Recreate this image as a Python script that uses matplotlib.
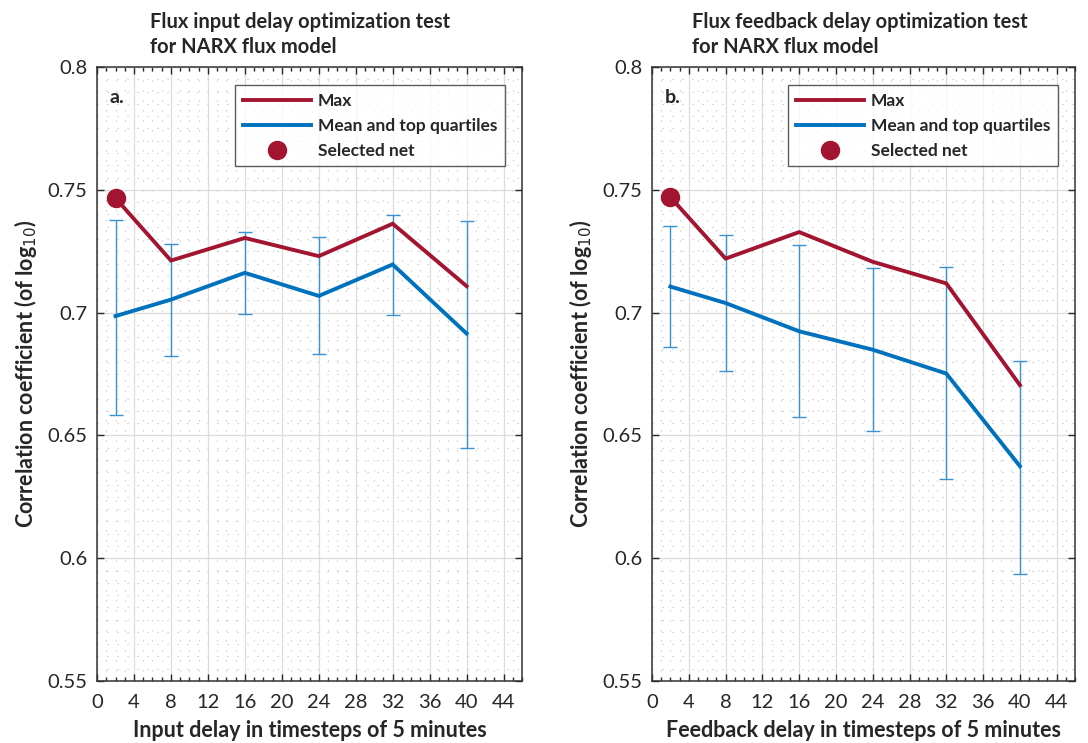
import matplotlib
matplotlib.use('Agg')
import matplotlib.pyplot as plt
from matplotlib.ticker import MultipleLocator

plt.rcParams['font.family'] = ['Lato', 'DejaVu Sans']

# --- data ---
delays = [2, 8, 16, 24, 32, 40]

# panel a: input delay
max_a = [0.7466, 0.7212, 0.7304, 0.7230, 0.7362, 0.7108]
mean_a = [0.6986, 0.7053, 0.7162, 0.7068, 0.7196, 0.6915]
low_a = [0.6585, 0.6825, 0.6996, 0.6831, 0.6991, 0.6448]
high_a = [0.7376, 0.7281, 0.7327, 0.7308, 0.7399, 0.7373]

# panel b: feedback delay
max_b = [0.7470, 0.7220, 0.7328, 0.7207, 0.7119, 0.6705]
mean_b = [0.7106, 0.7039, 0.6924, 0.6849, 0.6752, 0.6375]
low_b = [0.6862, 0.6761, 0.6573, 0.6519, 0.6321, 0.5937]
high_b = [0.7352, 0.7318, 0.7275, 0.7180, 0.7185, 0.6804]

selected_x = 2

RED = '#A2142F'
BLUE = '#0072BD'
ERR = '#3A93D0'
TXT = '#262626'

FONT = {'title': 14.5, 'label': 15.5, 'xlabel': 15.5, 'tick': 14.5, 'legend': 12.5, 'tag': 14}


def draw_panel(ax, mx, mean, low, high, title, title_x, xlabel, tag):
    yerr = [[m - l for m, l in zip(mean, low)], [h - m for m, h in zip(mean, high)]]
    ax.errorbar(delays, mean, yerr=yerr, fmt='none', ecolor=ERR, elinewidth=1.0,
                capsize=5, capthick=1.0, zorder=3)
    ax.plot(delays, mx, color=RED, lw=2.8, label='Max', zorder=4, solid_joinstyle='miter')
    ax.plot(delays, mean, color=BLUE, lw=2.8, label='Mean and top quartiles', zorder=4,
            solid_joinstyle='miter')
    ax.plot([selected_x], [mx[delays.index(selected_x)]], 'o', color=RED, ms=13,
            label='Selected net', zorder=5, linestyle='none')

    ax.set_xlim(0, 46)
    ax.set_ylim(0.55, 0.8)
    ax.xaxis.set_major_locator(MultipleLocator(4))
    ax.xaxis.set_minor_locator(MultipleLocator(1))
    ax.yaxis.set_minor_locator(MultipleLocator(0.005))
    ax.set_yticks([0.55, 0.6, 0.65, 0.7, 0.75, 0.8])
    ax.set_yticklabels(['0.55', '0.6', '0.65', '0.7', '0.75', '0.8'])

    ax.grid(which='major', color='#DCDCDC', lw=0.9, ls='-')
    ax.grid(which='minor', color='#BEBEBE', lw=0.8, ls=(0, (1, 8)))
    ax.set_axisbelow(True)

    ax.tick_params(which='both', direction='in', top=True, right=True, colors=TXT,
                   labelsize=FONT['tick'], width=1.0)
    ax.tick_params(which='major', length=5)
    ax.tick_params(axis='x', which='minor', length=3)
    ax.tick_params(axis='y', which='minor', length=0)
    ax.tick_params(axis='x', which='major', pad=9)
    ax.tick_params(axis='y', which='major', pad=7)
    for s in ax.spines.values():
        s.set_color('#333333')
        s.set_linewidth(1.1)

    ax.set_xlabel(xlabel, fontsize=FONT['xlabel'], fontweight='bold', color=TXT, labelpad=7)
    ax.set_ylabel('Correlation coefficient (of log$_{10}$)', fontsize=FONT['label'],
                  fontweight='bold', color=TXT, labelpad=6)
    ax.text(title_x, 1.017, title, transform=ax.transAxes, ha='center', va='bottom',
            multialignment='left', fontsize=FONT['title'], fontweight='bold', color=TXT,
            linespacing=1.3)
    ax.text(0.03, 0.965, tag, transform=ax.transAxes, ha='left', va='top',
            fontsize=FONT['tag'], fontweight='bold', color=TXT)

    leg = ax.legend(loc='upper right', bbox_to_anchor=(0.96, 0.97), fontsize=FONT['legend'],
                    handlelength=3.9, frameon=True, fancybox=False, edgecolor='#333333',
                    borderpad=0.45, labelspacing=0.5, handletextpad=0.4, borderaxespad=0)
    leg.get_frame().set_linewidth(1.0)
    for t in leg.get_texts():
        t.set_color(TXT)
        t.set_fontweight('bold')


fig = plt.figure(figsize=(10.88, 7.43), dpi=100)
ax1 = fig.add_axes([0.0892, 0.0834, 0.3906, 0.8264])
ax2 = fig.add_axes([0.5993, 0.0834, 0.3888, 0.8264])

draw_panel(ax1, max_a, mean_a, low_a, high_a,
           'Flux input delay optimization test\nfor NARX flux model', 0.478,
           'Input delay in timesteps of 5 minutes', 'a.')
draw_panel(ax2, max_b, mean_b, low_b, high_b,
           'Flux feedback delay optimization test\nfor NARX flux model', 0.49,
           'Feedback delay in timesteps of 5 minutes', 'b.')

fig.savefig('out.png', dpi=100)
